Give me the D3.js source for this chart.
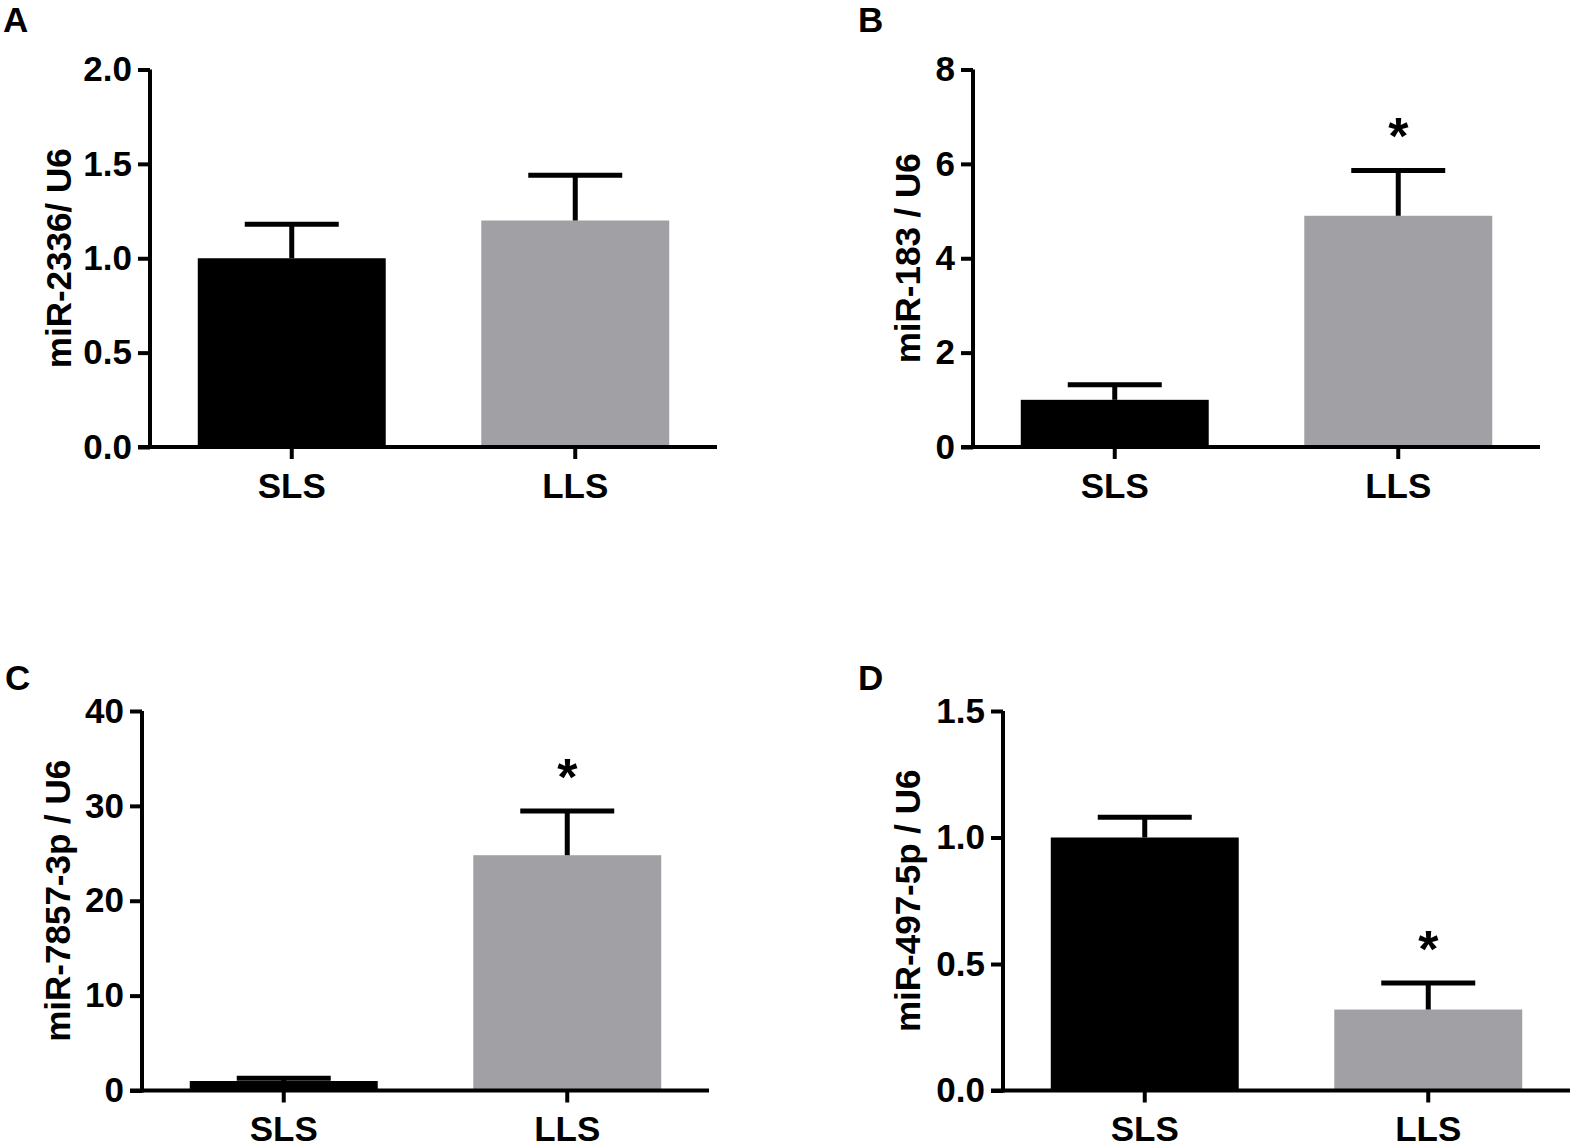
<!DOCTYPE html>
<html>
<head>
<meta charset="utf-8">
<script src="https://cdn.jsdelivr.net/npm/d3@7"></script>
<style>
  html, body { margin: 0; padding: 0; background: #fff; }
  svg text { font-family: "Liberation Sans", Arial, sans-serif; font-weight: bold; fill: #000; }
</style>
</head>
<body>
<svg id="chart" width="1575" height="1143"></svg>
<script>
// ---- data ----
const categories = ["SLS", "LLS"];
const panelLetters = ["A", "B", "C", "D"];
const yLabels = ["miR-2336/ U6", "miR-183 / U6", "miR-7857-3p / U6", "miR-497-5p / U6"];

const meansA = [1.0, 1.2];
const semA   = [0.18, 0.24];
const meansB = [1.0, 4.9];
const semB   = [0.32, 0.96];
const meansC = [1.0, 24.8];
const semC   = [0.3, 4.65];
const meansD = [1.0, 0.32];
const semD   = [0.08, 0.105];

const sigA = [false, false];
const sigB = [false, true];
const sigC = [false, true];
const sigD = [false, true];

const ticksA = [0, 0.5, 1.0, 1.5, 2.0];
const ticksB = [0, 2, 4, 6, 8];
const ticksC = [0, 10, 20, 30, 40];
const ticksD = [0, 0.5, 1.0, 1.5];

const tickFmtA = ".1f", tickFmtB = "d", tickFmtC = "d", tickFmtD = ".1f";

// ---- layout (positions only) ----
const layouts = [
  { ax: 150, yTop: 69.5, yBot: 447, letterX: 3,   letterY: 32,  labelX: 71 },
  { ax: 973, yTop: 69.5, yBot: 447, letterX: 858, letterY: 32,  labelX: 920 },
  { ax: 142, yTop: 711,  yBot: 1090.5, letterX: 5,   letterY: 690, labelX: 70 },
  { ax: 1003, yTop: 711, yBot: 1090.5, letterX: 858, letterY: 690, labelX: 920 }
];

const panels = [
  { means: meansA, sem: semA, sig: sigA, ticks: ticksA, fmt: tickFmtA },
  { means: meansB, sem: semB, sig: sigB, ticks: ticksB, fmt: tickFmtB },
  { means: meansC, sem: semC, sig: sigC, ticks: ticksC, fmt: tickFmtC },
  { means: meansD, sem: semD, sig: sigD, ticks: ticksD, fmt: tickFmtD }
];

const barColors = ["#000000", "#a1a0a5"];
const svg = d3.select("#chart");
const LW = 4, EW = 5, FS = 35;

panels.forEach((p, i) => {
  const L = layouts[i];
  const g = svg.append("g");
  const y = d3.scaleLinear()
    .domain([p.ticks[0], p.ticks[p.ticks.length - 1]])
    .range([L.yBot, L.yTop]);
  const span = 567;
  const x = d3.scaleBand()
    .domain(categories)
    .range([L.ax, L.ax + span])
    .paddingInner(0.337)
    .paddingOuter(0.337 / 2);

  const data = categories.map((c, k) => ({ c, m: p.means[k], s: p.sem[k], sig: p.sig[k], k }));

  // bars
  g.selectAll("rect.bar").data(data).join("rect")
    .attr("class", "bar")
    .attr("x", d => x(d.c))
    .attr("width", x.bandwidth())
    .attr("y", d => y(d.m))
    .attr("height", d => y(0) - y(d.m))
    .attr("fill", d => barColors[d.k]);

  // error bars
  const cx = d => x(d.c) + x.bandwidth() / 2;
  g.selectAll("line.stem").data(data).join("line")
    .attr("x1", cx).attr("x2", cx)
    .attr("y1", d => y(d.m)).attr("y2", d => y(d.m + d.s))
    .attr("stroke", "#000").attr("stroke-width", EW);
  g.selectAll("line.cap").data(data).join("line")
    .attr("x1", d => cx(d) - x.bandwidth() / 4)
    .attr("x2", d => cx(d) + x.bandwidth() / 4)
    .attr("y1", d => y(d.m + d.s)).attr("y2", d => y(d.m + d.s))
    .attr("stroke", "#000").attr("stroke-width", EW);

  // significance asterisks
  g.selectAll("text.sig").data(data.filter(d => d.sig)).join("text")
    .attr("x", cx)
    .attr("y", d => y(d.m + d.s) - 16)
    .attr("text-anchor", "middle")
    .style("font-size", "52px")
    .text("*");

  // y axis
  const yAxis = d3.axisLeft(y)
    .tickValues(p.ticks)
    .tickFormat(d3.format(p.fmt))
    .tickSize(12)
    .tickSizeOuter(0)
    .tickPadding(6);
  const ya = g.append("g").attr("transform", `translate(${L.ax},0)`).call(yAxis);
  ya.select(".domain").attr("stroke", "#000").attr("stroke-width", LW)
    .attr("d", `M0,${L.yTop}V${L.yBot + LW / 2}`);
  ya.selectAll(".tick line").attr("stroke", "#000").attr("stroke-width", LW);
  ya.selectAll(".tick text").style("font-size", FS + "px").style("font-family", "'Liberation Sans', Arial, sans-serif").style("font-weight", "bold").attr("fill", "#000");

  // x axis
  const xAxis = d3.axisBottom(x).tickSize(12).tickSizeOuter(0).tickPadding(14);
  const xa = g.append("g").attr("transform", `translate(0,${L.yBot})`).call(xAxis);
  xa.select(".domain").attr("stroke", "#000").attr("stroke-width", LW)
    .attr("d", `M${L.ax - 12},0H${L.ax + span}`);
  xa.selectAll(".tick line").attr("stroke", "#000").attr("stroke-width", LW);
  xa.selectAll(".tick text").style("font-size", FS + "px").style("font-family", "'Liberation Sans', Arial, sans-serif").style("font-weight", "bold").attr("fill", "#000");

  // y label
  g.append("text")
    .attr("transform", `translate(${L.labelX},${(L.yTop + L.yBot) / 2}) rotate(-90)`)
    .attr("text-anchor", "middle")
    .style("font-size", FS + "px")
    .text(yLabels[i]);

  // panel letter
  g.append("text")
    .attr("x", L.letterX).attr("y", L.letterY)
    .style("font-size", "35px")
    .text(panelLetters[i]);
});
</script>
</body>
</html>
